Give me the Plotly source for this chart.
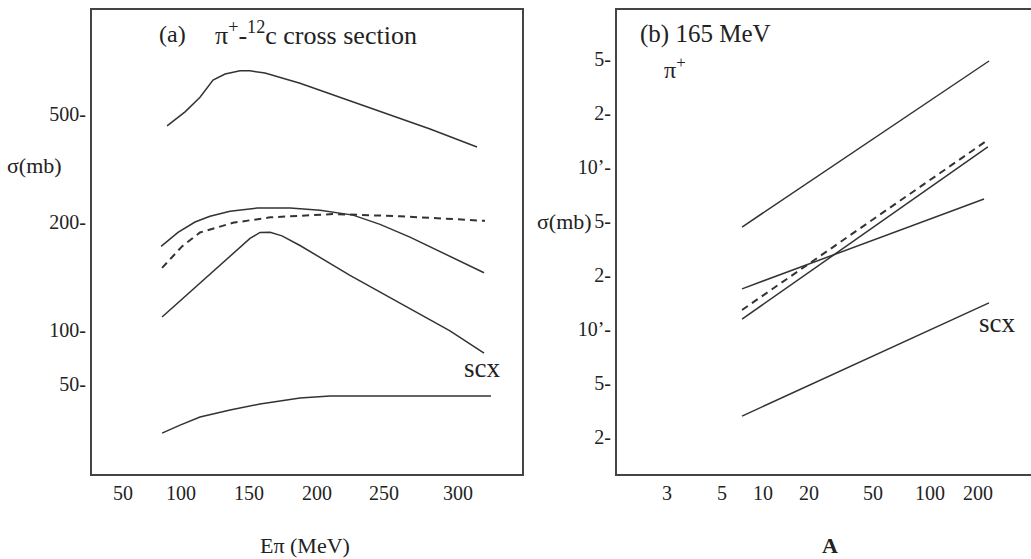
import numpy as np
import plotly.graph_objects as go

# ---------------- data: panel (a) pi+ - 12C cross sections vs E_pi (MeV) ----------------
E_total = [89.9, 102.9, 113.7, 123.1, 131.8, 142.6, 149.8, 160.6, 185.9, 236.5, 279.8, 313.7]
sig_total = [452, 509, 576, 667, 702, 721, 721, 708, 649, 526, 440, 378]

E_reac = [85.6, 97.8, 110.1, 120.9, 135.4, 154.9, 178.7, 200.4, 224.2, 243.7, 265.3, 281.9, 301.4, 318.8]
sig_reac = [171, 187, 200, 210, 219, 225, 225, 221, 212, 197, 181.5, 169.3, 155.8, 144.4]

E_dash = [86.3, 100.7, 113.7, 137.5, 164.3, 209.7, 258.1, 319.5]
sig_dash = [149, 171, 187, 199, 208, 214, 210, 202]

E_peak = [86.3, 113.7, 140.4, 149.8, 157.0, 164.3, 172.9, 185.9, 222.0, 258.1, 294.2, 318.8]
sig_peak = [108.7, 135, 167, 180, 187, 187.3, 183, 172, 142, 119, 99, 74.2]

E_scx = [86.3, 99.3, 113.7, 135.4, 157.0, 185.9, 207.6, 258.1, 323.8]
sig_scx = [26.6, 29.5, 32.7, 35.8, 38.7, 41.8, 42.9, 42.9, 42.9]

# panel (a) axis labels
a_x_labels = ["50", "100", "150", "200", "250", "300"]
a_x_label_pos = [58.1, 100, 149.1, 198.2, 246.6, 300]
a_y_tick_mb = [50, 100, 200, 500]
a_y_tick_pos = [0, 1, 3, 5]

# ---------------- data: panel (b) 165 MeV pi+, sigma vs A ----------------
A_start = 7.49
A_top = [A_start, 225.6]
sig_top = [42.6, 451]
A_dash_b = [A_start, 222]
sig_dash_b = [13.1, 146.8]
A_steep = [A_start, 222]
sig_steep = [11.5, 132.9]
A_shallow = [A_start, 210.6]
sig_shallow = [17.7, 63.5]
A_scx = [A_start, 225.6]
sig_scx_b = [2.90, 14.5]

b_x_labels = ["3", "5", "10", "20", "50", "100", "200"]
b_x_label_pos = [2.66, 5.68, 10, 18.86, 45.6, 100, 193.9]
b_y_labels = ["2-", "5-", "10’-", "2-", "5-", "10’-", "2-", "5-"]
b_y_label_pos = [10 ** (k / 3) for k in range(1, 9)]


def mb_to_axis(v):
    """Panel (a) uses an irregular sigma scale: piecewise log through its tick labels."""
    lv = np.log10(np.asarray(v, dtype=float))
    lt = np.log10(np.array(a_y_tick_mb, dtype=float))
    tp = np.array(a_y_tick_pos, dtype=float)
    idx = np.clip(np.searchsorted(lt, lv) - 1, 0, len(lt) - 2)
    return tp[idx] + (lv - lt[idx]) * (tp[idx + 1] - tp[idx]) / (lt[idx + 1] - lt[idx])


W, H = 1031, 559
FONT = "Liberation Serif"
LC = "#333333"
AX = "#444444"
TC = "#222222"

fig = go.Figure()

solid = dict(color=LC, width=1.5)
dashed = dict(color=LC, width=2, dash="7px,5px")

for xs, ys, ln in [(E_total, sig_total, solid), (E_reac, sig_reac, solid),
                   (E_dash, sig_dash, dashed), (E_peak, sig_peak, solid),
                   (E_scx, sig_scx, solid)]:
    fig.add_trace(go.Scatter(x=xs, y=mb_to_axis(ys), mode="lines", line=ln,
                             xaxis="x", yaxis="y", showlegend=False, hoverinfo="skip"))

for xs, ys, ln in [(A_top, sig_top, solid), (A_dash_b, sig_dash_b, dashed),
                   (A_steep, sig_steep, solid), (A_shallow, sig_shallow, solid),
                   (A_scx, sig_scx_b, solid)]:
    fig.add_trace(go.Scatter(x=xs, y=ys, mode="lines", line=ln,
                             xaxis="x2", yaxis="y2", showlegend=False, hoverinfo="skip"))

ydom = [1 - 474 / H, 1 - 10 / H]
tickfont = dict(family=FONT, size=20, color=TC)

fig.update_layout(
    width=W, height=H,
    margin=dict(l=0, r=0, t=0, b=0),
    paper_bgcolor="white", plot_bgcolor="white",
    font=dict(family=FONT, size=20, color=TC),
    xaxis=dict(domain=[92 / W, 522 / W], range=[35.7, 346.2], showgrid=False, zeroline=False,
               showline=True, linecolor=AX, linewidth=2, mirror=True, ticks="",
               tickvals=a_x_label_pos, ticktext=a_x_labels, tickfont=tickfont,
               ticklabelstandoff=0),
    yaxis=dict(domain=ydom, range=[-1.667, 6.926], showgrid=False, zeroline=False,
               showline=True, linecolor=AX, linewidth=2, mirror=True, ticks="",
               tickvals=mb_to_axis(a_y_tick_mb), ticktext=[f"{v}-" for v in a_y_tick_mb],
               tickfont=tickfont, ticklabelstandoff=0),
    xaxis2=dict(domain=[617 / W, 1.0], type="log", range=[0.1257, 2.6048], showgrid=False,
                zeroline=False, showline=True, linecolor=AX, linewidth=2, mirror=True, ticks="",
                tickvals=b_x_label_pos, ticktext=b_x_labels, tickfont=tickfont,
                ticklabelstandoff=0, anchor="y2"),
    yaxis2=dict(domain=ydom, type="log", range=[0.105, 2.969], showgrid=False, zeroline=False,
                showline=True, linecolor=AX, linewidth=2, mirror=False, ticks="",
                tickvals=b_y_label_pos, ticktext=b_y_labels, tickfont=tickfont,
                ticklabelstandoff=0, anchor="x2"),
)

annots = [
    dict(text="(a)", x=157, y=34, xanchor="left", size=24),
    dict(text="π<sup>+</sup>-<sup>12</sup>c cross section", x=213, y=34, xanchor="left", size=26),
    dict(text="σ(mb)", x=34, y=166, xanchor="center", size=22),
    dict(text="Eπ (MeV)", x=305, y=545, xanchor="center", size=22),
    dict(text="scx", x=482, y=368, xanchor="center", size=27),
    dict(text="(b) 165 MeV", x=638, y=34, xanchor="left", size=25),
    dict(text="π<sup>+</sup>", x=662, y=68, xanchor="left", size=24),
    dict(text="σ(mb)", x=564, y=222, xanchor="center", size=22),
    dict(text="<b>A</b>", x=830, y=545, xanchor="center", size=22),
    dict(text="scx", x=997, y=323, xanchor="center", size=27),
]
for a in annots:
    fig.add_annotation(text=a["text"], x=a["x"] / W, y=1 - a["y"] / H, xref="paper", yref="paper",
                       xanchor=a["xanchor"], yanchor="middle", showarrow=False,
                       font=dict(family=FONT, size=a["size"], color=TC))

fig.write_html("out.html", config={"displayModeBar": False},
               post_script="document.body.style.margin='0';")
